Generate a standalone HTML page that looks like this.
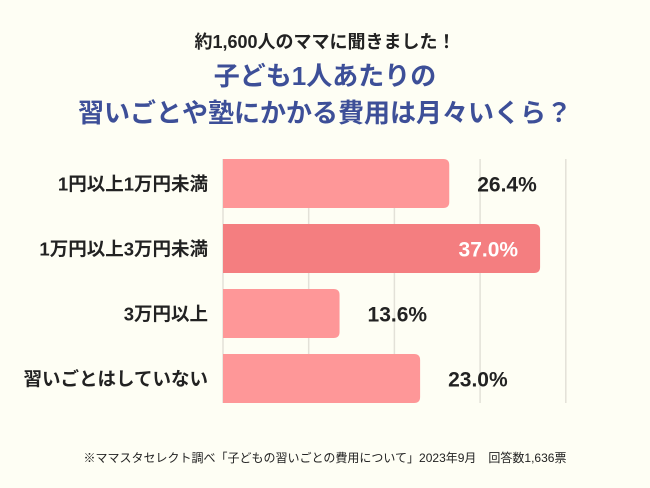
<!DOCTYPE html>
<html><head><meta charset="utf-8"><style>
body{margin:0;background:#fefef4;}
#wrap{position:relative;width:650px;height:488px;overflow:hidden;background:#fefef4;font-family:"Liberation Sans","Noto Sans CJK JP",sans-serif;}
.t{position:absolute;left:0;width:650px;text-align:center;font-weight:bold;}
</style></head><body>
<div id="wrap">
<div class="t" style="top:31px;font-size:18px;line-height:22px;color:#222">約1,600人のママに聞きました！</div>
<div class="t" style="top:58px;font-size:26px;color:#3d4f98;line-height:37px">子ども1人あたりの<br>習いごとや塾にかかる費用は月々いくら？</div>
<svg id="chart" width="650" height="488" style="position:absolute;left:0;top:0"></svg>
<div class="t" style="top:449px;font-size:12px;font-weight:normal;color:#222">※ママスタセレクト調べ「子どもの習いごとの費用について」2023年9月　回答数1,636票</div>
</div>
<script>
const categories=["1円以上1万円未満","1万円以上3万円未満","3万円以上","習いごとはしていない"];
const values=[26.4,37.0,13.6,23.0];
const highlight=[false,true,false,false];
const ticks=[0,10,20,30,40];
const NS="http://www.w3.org/2000/svg";
const svg=document.getElementById('chart');
const x0=223,scale=8.57,y0=159,pitch=65,bh=49;
const xs=v=>x0+v*scale;
const ys=i=>y0+i*pitch;
function mk(t,a){const e=document.createElementNS(NS,t);for(const k in a)e.setAttribute(k,a[k]);svg.appendChild(e);return e;}
ticks.forEach(t=>{
 const l=mk('line',{x1:xs(t),x2:xs(t),y1:y0,y2:ys(categories.length-1)+bh,stroke:'#e3e1d8','stroke-width':1.5});
 
 
});
categories.forEach((c,i)=>{
 const y=ys(i),w=xs(values[i])-x0;
 const p=mk('path',{d:`M${x0},${y}H${x0+w-6}Q${x0+w},${y} ${x0+w},${y+6}V${y+bh-6}Q${x0+w},${y+bh} ${x0+w-6},${y+bh}H${x0}Z`,fill:highlight[i]?'#f47e80':'#fe9798'});
 
 
 const lb=mk('text',{x:208,y:y+bh/2+7,'text-anchor':'end','font-size':18.5,'font-weight':'bold',fill:'#222'});
 lb.textContent=c;
 
 
 const inside=highlight[i];
 const vt=mk('text',{x:inside?xs(values[i])-22:xs(values[i])+28,y:y+bh/2+8,'text-anchor':inside?'end':'start','font-size':21,'font-weight':'bold',fill:inside?'#fff':'#222'});
 vt.textContent=values[i].toFixed(1)+'%';
 
 
});
</script>
</body></html>
